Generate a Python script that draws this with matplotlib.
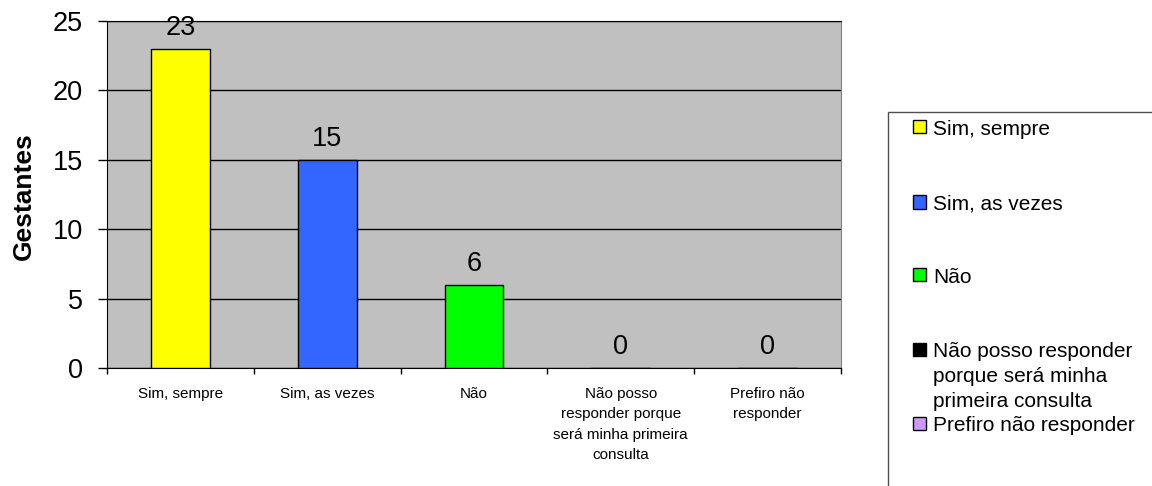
import matplotlib
matplotlib.use('Agg')
import matplotlib.pyplot as plt
from matplotlib.patches import Rectangle

categories = ['Sim, sempre', 'Sim, as vezes', 'Não',
              'Não posso\nresponder porque\nserá minha primeira\nconsulta',
              'Prefiro não\nresponder']
legend_labels = ['Sim, sempre', 'Sim, as vezes', 'Não',
                 'Não posso responder\nporque será minha\nprimeira consulta',
                 'Prefiro não responder']
values = [23, 15, 6, 0, 0]
colors = ['#FFFF00', '#3366FF', '#00FF00', '#000000', '#CC99FF']

plt.rcParams['font.family'] = ['Liberation Sans', 'DejaVu Sans']

W, H = 1152, 486
fig = plt.figure(figsize=(W / 100, H / 100), dpi=100)
ax = fig.add_axes([107 / W, 1 - 368 / H, (841 - 107) / W, (368 - 21) / H])
ax.set_facecolor('#C0C0C0')

x = range(len(values))
bars = ax.bar(x, values, width=0.4, color=colors, edgecolor='black', linewidth=1, zorder=3)
for b, v in zip(bars, values):
    ax.annotate(str(v), (b.get_x() + b.get_width() / 2, v), xytext=(0, 10),
                textcoords='offset points', ha='center', va='baseline', fontsize=19.5)

ax.set_xlim(-0.5, len(values) - 0.5)
ax.set_ylim(0, 25)
ax.set_yticks([0, 5, 10, 15, 20, 25])
ax.tick_params(axis='y', labelsize=19.5, length=6.5, width=1, direction='out', pad=11)
ax.grid(axis='y', color='black', linewidth=1, zorder=1)

# category ticks sit between the bars
ax.set_xticks([i - 0.5 for i in range(len(values) + 1)], minor=False)
ax.set_xticklabels([])
ax.tick_params(axis='x', length=4, width=1, direction='out')
ax.set_xticks(list(x), minor=True)
ax.set_xticklabels(categories, minor=True, fontsize=11, linespacing=1.55)
ax.tick_params(axis='x', which='minor', length=0, pad=14)

for side in ['left', 'bottom', 'top']:
    ax.spines[side].set_color('black')
ax.spines['right'].set_color('#808080')

ax.set_ylabel('Gestantes', fontsize=19, fontweight='bold')
ax.yaxis.set_label_coords((36 - 107) / (841 - 107), (368 - 196) / (368 - 21))

# legend box drawn by hand, it runs off the figure edge
fig.patches.append(Rectangle((888 / W, -0.1), 0.5, 1.1 - 112 / H,
                             transform=fig.transFigure, facecolor='white',
                             edgecolor='#505050', linewidth=1))
ys = [127, 202, 275, 349, 423]
for y, c, lab in zip(ys, colors, legend_labels):
    fig.patches.append(Rectangle((913 / W, 1 - (y + 6.5) / H), 13 / W, 13 / H,
                                 transform=fig.transFigure, facecolor=c,
                                 edgecolor='black', linewidth=1))
    fig.text(933 / W, 1 - (y - 7) / H, lab, fontsize=15, va='top', ha='left',
             linespacing=1.4)

fig.savefig('out.png', dpi=100)
